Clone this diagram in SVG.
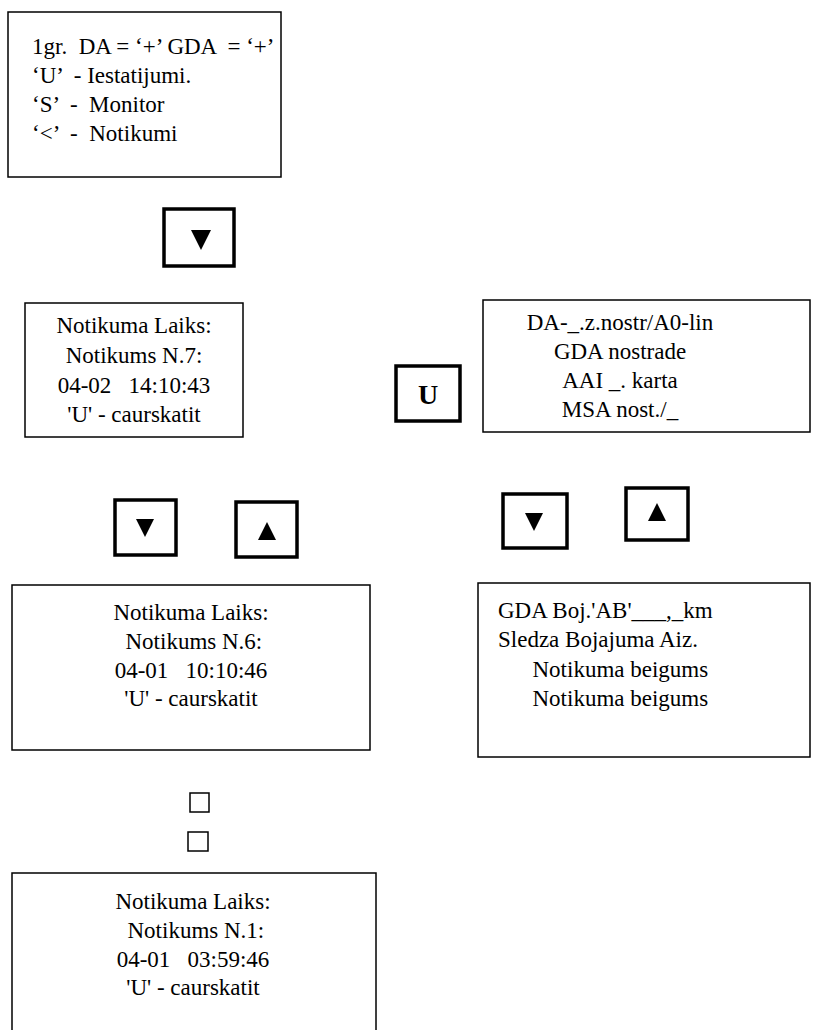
<svg xmlns="http://www.w3.org/2000/svg" width="820" height="1030" viewBox="0 0 820 1030">
  <style>
    .box { fill: #fff; stroke: #000; stroke-width: 1.5; }
    .key { fill: #fff; stroke: #000; stroke-width: 3.5; }
    .mark { fill: none; stroke: #000; stroke-width: 1.5; }
    text { font-family: "Liberation Serif", "Times New Roman", serif; font-size: 23px; fill: #000; white-space: pre; }
    .c { text-anchor: middle; }
    .bold { font-weight: bold; font-size: 28px; }
  </style>
  <rect width="820" height="1030" fill="#fff"/>

  <!-- main menu -->
  <g id="menu">
    <rect class="box" x="8" y="12" width="273" height="165"/>
    <text x="32" y="54">1gr.  DA = ‘+’ GDA  = ‘+’</text>
    <text x="32" y="83">‘U’  - Iestatijumi.</text>
    <text x="32" y="112">‘S’  -  Monitor</text>
    <text x="32" y="141">‘&lt;’  -  Notikumi</text>
  </g>

  <g id="key-down-1">
    <rect class="key" x="164" y="209" width="70" height="57"/>
    <polygon points="191,230 211,230 201,250"/>
  </g>

  <g id="event-7">
    <rect class="box" x="25" y="303" width="218" height="134"/>
    <text class="c" x="134" y="333">Notikuma Laiks:</text>
    <text class="c" x="134" y="363">Notikums N.7:</text>
    <text class="c" x="134" y="393">04-02   14:10:43</text>
    <text class="c" x="134" y="422">'U' - caurskatit</text>
  </g>

  <g id="key-u">
    <rect class="key" x="396" y="366" width="64" height="55"/>
    <text class="c bold" x="428" y="404">U</text>
  </g>

  <g id="settings">
    <rect class="box" x="483" y="300" width="327" height="132"/>
    <text class="c" x="620" y="330">DA-_.z.nostr/A0-lin</text>
    <text class="c" x="620" y="359">GDA nostrade</text>
    <text class="c" x="620" y="388">AAI _. karta</text>
    <text class="c" x="620" y="417">MSA nost./_</text>
  </g>

  <g id="key-down-2">
    <rect class="key" x="115" y="500" width="61" height="55"/>
    <polygon points="136,519 154,519 145,537"/>
  </g>
  <g id="key-up-1">
    <rect class="key" x="236" y="502" width="61" height="55"/>
    <polygon points="258,540 276,540 267,522"/>
  </g>

  <g id="key-down-3">
    <rect class="key" x="503" y="494" width="64" height="54"/>
    <polygon points="525,513 543,513 534,531"/>
  </g>
  <g id="key-up-2">
    <rect class="key" x="626" y="488" width="62" height="52"/>
    <polygon points="648,521 666,521 657,503"/>
  </g>

  <g id="event-6">
    <rect class="box" x="12" y="585" width="358" height="165"/>
    <text class="c" x="191" y="620">Notikuma Laiks:</text>
    <text class="c" x="191" y="649"> Notikums N.6:</text>
    <text class="c" x="191" y="678">04-01   10:10:46</text>
    <text class="c" x="191" y="706">'U' - caurskatit</text>
  </g>

  <g id="fault">
    <rect class="box" x="478" y="583" width="332" height="174"/>
    <text x="498" y="618">GDA Boj.'AB'___,_km</text>
    <text x="498" y="647">Sledza Bojajuma Aiz.</text>
    <text x="498" y="677">      Notikuma beigums</text>
    <text x="498" y="706">      Notikuma beigums</text>
  </g>

  <g id="gap-marks">
    <rect class="mark" x="190" y="793" width="19" height="19"/>
    <rect class="mark" x="188" y="832" width="20" height="19"/>
  </g>

  <g id="event-1">
    <rect class="box" x="12" y="873" width="364" height="160"/>
    <text class="c" x="193" y="909">Notikuma Laiks:</text>
    <text class="c" x="193" y="938"> Notikums N.1:</text>
    <text class="c" x="193" y="967">04-01   03:59:46</text>
    <text class="c" x="193" y="995">'U' - caurskatit</text>
  </g>
</svg>
